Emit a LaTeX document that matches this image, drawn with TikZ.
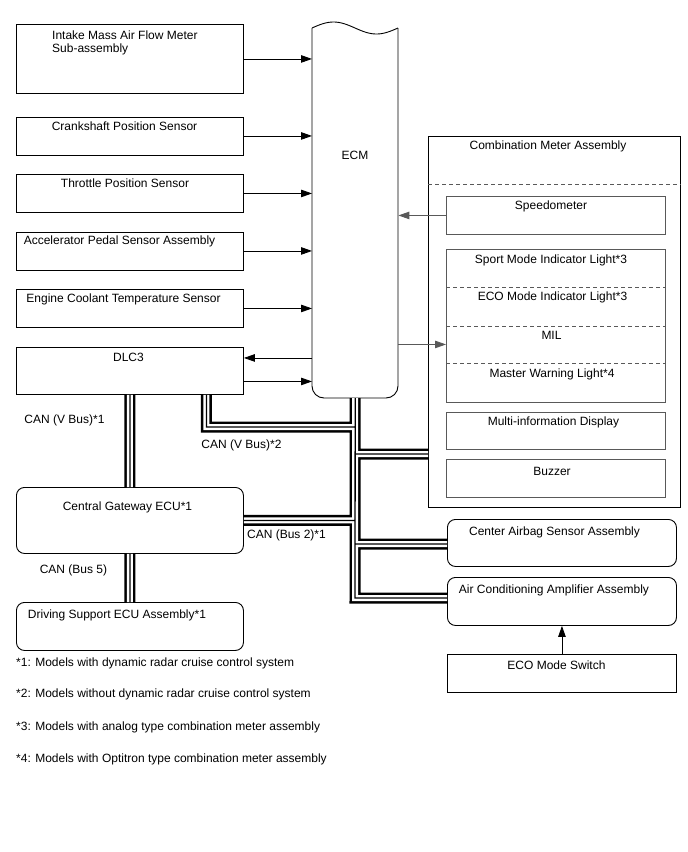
\documentclass[tikz,border=0pt]{standalone}
\usepackage{fontspec}
\setmainfont{Liberation Sans}
\usetikzlibrary{arrows.meta}
\begin{document}
\begin{tikzpicture}[x=1pt,y=-1pt,
  box/.style={draw, line width=0.9pt, inner sep=0pt, anchor=north west},
  rbox/.style={box, rounded corners=8pt},
  gbox/.style={box, draw=black!65},
  lbl/.style={font=\fontsize{12}{14}\selectfont, inner sep=0pt},
  arr/.style={-{Triangle[length=11pt,width=7.5pt]}, line width=0.9pt},
  garr/.style={arr, draw=black!65},
  dashline/.style={dashed, dash pattern=on 4pt off 3pt, line width=0.8pt, draw=black!65},
  canbus/.style={line width=11pt, line join=miter,
    postaction={draw=white, line width=6pt},
    postaction={draw=black, line width=1.3pt}}
]
\useasboundingbox (0,0) rectangle (688,852);

% ---- left column ----
\node[box, minimum width=227pt, minimum height=69pt] (imaf) at (16,24) {};
\node[box, minimum width=227pt, minimum height=38pt] (ckp) at (16,116.5) {};
\node[box, minimum width=227pt, minimum height=38pt] (tps) at (16,174) {};
\node[box, minimum width=227pt, minimum height=38pt] (app) at (16,231.5) {};
\node[box, minimum width=227pt, minimum height=38pt] (ect) at (16,289) {};
\node[box, minimum width=227pt, minimum height=47pt] (dlc) at (16,347) {};
\node[rbox, minimum width=227pt, minimum height=66pt] (gw) at (16,487) {};
\node[rbox, minimum width=227pt, minimum height=48pt] (ds) at (16,602) {};

\node[lbl, anchor=west] (timaf1) at (52,35) {Intake Mass Air Flow Meter};
\node[lbl, anchor=west] (timaf2) at (52,49) {Sub-assembly};
\node[lbl] (tckp) at (124.5,126) {Crankshaft Position Sensor};
\node[lbl] (ttps) at (125,183) {Throttle Position Sensor};
\node[lbl] (tapp) at (119.5,241) {Accelerator Pedal Sensor Assembly};
\node[lbl] (tect) at (123.5,299) {Engine Coolant Temperature Sensor};
\node[lbl] (tdlc) at (128.5,357) {DLC3};
\node[lbl] (tgw) at (127.5,507) {Central Gateway ECU*1};
\node[lbl] (tds) at (117,615) {Driving Support ECU Assembly*1};

% ---- ECM ----
\node[inner sep=0pt, minimum width=86pt, minimum height=370pt, anchor=south west] (ecm) at (312,398) {};
\draw[line width=0.9pt, rounded corners=12pt] (312,28) -- (312,398) -- (398,398) -- (398,28);
\draw[line width=0.9pt] plot[domain=0:86, samples=50, smooth] ({312+\x},{28-6*sin(4.18605*\x)});
\node[lbl] (tecm) at (355,155) {ECM};

% ---- combination meter ----
\node[box, minimum width=252pt, minimum height=371pt] (cm) at (428,136) {};
\draw[dashline] ([yshift=-48pt]cm.north west) -- ([yshift=-48pt]cm.north east);
\node[gbox, minimum width=219pt, minimum height=38pt] (spd) at (446,196) {};
\node[gbox, minimum width=219pt, minimum height=153pt] (grp) at (446,249) {};
\draw[dashline] ([yshift=-38pt]grp.north west) -- ([yshift=-38pt]grp.north east);
\draw[dashline] ([yshift=-77pt]grp.north west) -- ([yshift=-77pt]grp.north east);
\draw[dashline] ([yshift=-114pt]grp.north west) -- ([yshift=-114pt]grp.north east);
\node[gbox, minimum width=219pt, minimum height=37pt] (mid) at (446,412) {};
\node[gbox, minimum width=219pt, minimum height=38pt] (bz) at (446,459) {};

\node[lbl] (tcm) at (548,146) {Combination Meter Assembly};
\node[lbl] (tspd) at (551,206) {Speedometer};
\node[lbl] (tsport) at (551,260) {Sport Mode Indicator Light*3};
\node[lbl] (teco1) at (552.5,297) {ECO Mode Indicator Light*3};
\node[lbl] (tmil) at (551.5,335.5) {MIL};
\node[lbl] (tmwl) at (552,374) {Master Warning Light*4};
\node[lbl] (tmid) at (553.5,422) {Multi-information Display};
\node[lbl] (tbz) at (552,471.5) {Buzzer};

% ---- right lower ----
\node[rbox, minimum width=229pt, minimum height=47pt] (ab) at (447,519) {};
\node[rbox, minimum width=229pt, minimum height=48pt] (ac) at (447,577) {};
\node[box, minimum width=229pt, minimum height=38pt] (eco) at (447,654) {};
\node[lbl] (tab) at (554.5,532.5) {Center Airbag Sensor Assembly};
\node[lbl] (tac) at (554,590) {Air Conditioning Amplifier Assembly};
\node[lbl] (teco) at (556.5,665) {ECO Mode Switch};

% ---- arrows ----
\draw[arr] (imaf.east) -- (imaf.east -| ecm.west);
\draw[arr] (ckp.east) -- (ckp.east -| ecm.west);
\draw[arr] (tps.east) -- (tps.east -| ecm.west);
\draw[arr] (app.east) -- (app.east -| ecm.west);
\draw[arr] (ect.east) -- (ect.east -| ecm.west);
\draw[arr] ([yshift=13pt]dlc.east -| ecm.west) -- ([yshift=13pt]dlc.east);
\draw[arr] ([yshift=-10.5pt]dlc.east) -- ([yshift=-10.5pt]dlc.east -| ecm.west);
\draw[garr] (spd.west) -- (spd.west -| ecm.east);
\draw[garr] ([yshift=-18.5pt]grp.west -| ecm.east) -- ([yshift=-18.5pt]grp.west);
\draw[arr] (eco.north) -- (ac.south);

% ---- CAN buses ----
\coordinate (jdlc) at (355,427);
\coordinate (jcm) at (355,454);
\coordinate (jab) at (355,544);
\coordinate (jac) at (355,598);
\draw[canbus]
  (dlc.south) -- (gw.north)
  (gw.south) -- (ds.north)
  ([xshift=76.5pt]dlc.south) |- (jdlc)
  (ecm.south) -- (jac) -- (jac -| ac.west)
  (jcm) -- (jcm -| cm.west)
  (gw.east) -- (gw.east -| ecm.south)
  (jab) -- (jab -| ab.west);

\node[lbl] (lv1) at (64.5,420) {CAN (V Bus)*1};
\node[lbl] (lb5) at (73.5,570) {CAN (Bus 5)};
\node[lbl] (lv2) at (241.5,445) {CAN (V Bus)*2};
\node[lbl] (lb2) at (286.5,535) {CAN (Bus 2)*1};

% ---- footnotes ----
\node[lbl, anchor=west] (f1) at (16,663) {*1: Models with dynamic radar cruise control system};
\node[lbl, anchor=west] (f2) at (16,694) {*2: Models without dynamic radar cruise control system};
\node[lbl, anchor=west] (f3) at (16,727) {*3: Models with analog type combination meter assembly};
\node[lbl, anchor=west] (f4) at (16,759) {*4: Models with Optitron type combination meter assembly};
\end{tikzpicture}
\end{document}
